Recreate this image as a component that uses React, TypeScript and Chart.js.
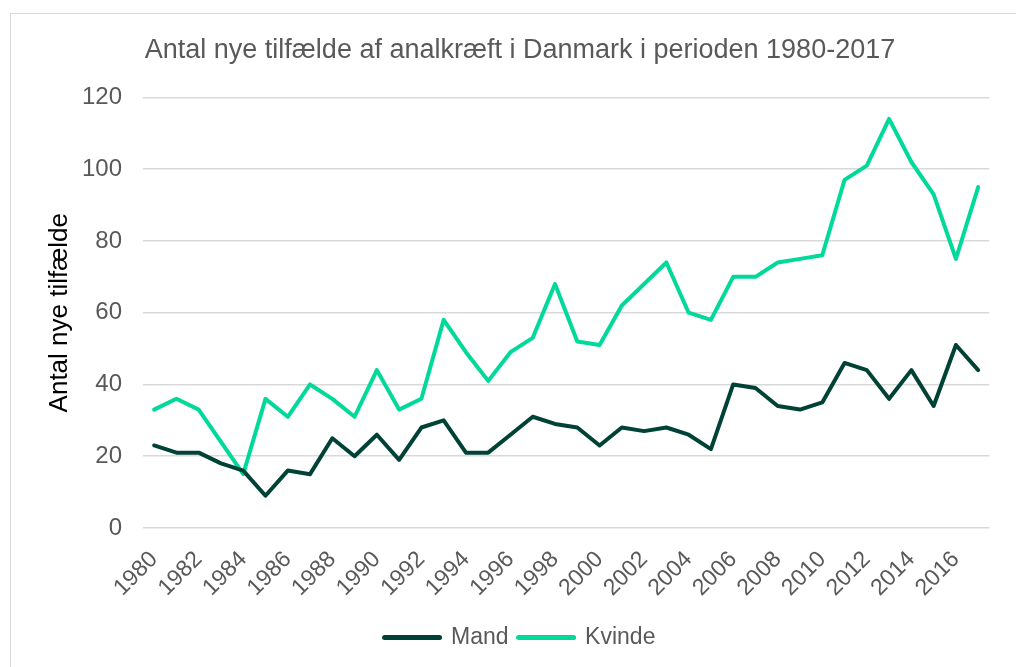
import React, { useEffect, useRef } from "react";
import { Chart, registerables } from "chart.js";

Chart.register(...registerables);

const years: string[] = [
  "1980","1981","1982","1983","1984","1985","1986","1987","1988","1989",
  "1990","1991","1992","1993","1994","1995","1996","1997","1998","1999",
  "2000","2001","2002","2003","2004","2005","2006","2007","2008","2009",
  "2010","2011","2012","2013","2014","2015","2016","2017",
];

const mand: number[] = [
  23, 21, 21, 18, 16, 9, 16, 15, 25, 20,
  26, 19, 28, 30, 21, 21, 26, 31, 29, 28,
  23, 28, 27, 28, 26, 22, 40, 39, 34, 33,
  35, 46, 44, 36, 44, 34, 51, 44,
];

const kvinde: number[] = [
  33, 36, 33, 24, 15, 36, 31, 40, 36, 31,
  44, 33, 36, 58, 49, 41, 49, 53, 68, 52,
  51, 62, 68, 74, 60, 58, 70, 70, 74, 75,
  76, 97, 101, 114, 102, 93, 75, 95,
];

const yTicks: number[] = [0, 20, 40, 60, 80, 100, 120];

const titleText = "Antal nye tilfælde af analkræft i Danmark i perioden 1980-2017";
const yTitleText = "Antal nye tilfælde";

const FONT = "'Liberation Sans', Arial, sans-serif";
const DARK = "#004236";
const BRIGHT = "#00D99A";
const GREY = "#595959";

export default function App() {
  const ref = useRef<HTMLCanvasElement | null>(null);

  useEffect(() => {
    if (!ref.current) return;
    const chart = new Chart(ref.current, {
      type: "line",
      data: {
        labels: years,
        datasets: [
          {
            label: "Mand",
            data: mand,
            borderColor: DARK,
            backgroundColor: DARK,
            borderWidth: 4,
            pointRadius: 0,
            borderCapStyle: "round",
            borderJoinStyle: "round",
            tension: 0,
          },
          {
            label: "Kvinde",
            data: kvinde,
            borderColor: BRIGHT,
            backgroundColor: BRIGHT,
            borderWidth: 4,
            pointRadius: 0,
            borderCapStyle: "round",
            borderJoinStyle: "round",
            tension: 0,
          },
        ],
      },
      options: {
        animation: false,
        responsive: false,
        maintainAspectRatio: false,
        layout: { padding: { left: 36, right: 23, top: 0, bottom: 8 } },
        plugins: {
          title: {
            display: true,
            text: titleText,
            color: GREY,
            font: { family: FONT, size: 27, weight: "normal" },
            padding: { top: 20, bottom: 31 },
          },
          legend: {
            display: true,
            position: "bottom",
            labels: {
              usePointStyle: true,
              pointStyle: "line",
              pointStyleWidth: 55,
              color: GREY,
              font: { family: FONT, size: 23 },
              padding: 10,
              generateLabels: (c: any) =>
                (Chart.defaults.plugins.legend.labels as any)
                  .generateLabels(c)
                  .map((l: any) => ({ ...l, lineWidth: 5, lineCap: "round" })),
            },
          },
          tooltip: { enabled: false },
        },
        scales: {
          x: {
            type: "category",
            offset: true,
            grid: { display: false, drawTicks: false },
            border: { display: false },
            ticks: {
              color: GREY,
              font: { family: FONT, size: 23 },
              autoSkip: false,
              minRotation: 45,
              maxRotation: 45,
              padding: 18,
              callback: (_v: any, i: number) => (i % 2 === 0 ? years[i] : ""),
            },
            afterFit: (s: any) => {
              s.height = 88;
            },
          },
          y: {
            min: 0,
            max: 120,
            afterBuildTicks: (s: any) => {
              s.ticks = yTicks.map((v) => ({ value: v }));
            },
            grid: { color: "#d9d9d9", lineWidth: 1.5, drawTicks: false },
            border: { display: false },
            ticks: {
              color: GREY,
              font: { family: FONT, size: 24 },
              padding: 21,
            },
            title: {
              display: true,
              text: yTitleText,
              color: "#000000",
              font: { family: FONT, size: 26 },
              padding: { top: -3, bottom: 0 },
            },
            afterFit: (s: any) => {
              s.width = 96;
            },
          },
        },
      },
    });
    return () => chart.destroy();
  }, []);

  return (
    <div
      style={{
        position: "absolute",
        left: 10,
        top: 13,
        width: 1006,
        height: 654,
        borderLeft: "1px solid #d9d9d9",
        borderTop: "1px solid #d9d9d9",
        boxSizing: "border-box",
        background: "#fff",
      }}
    >
      <canvas ref={ref} width={1005} height={653} style={{ display: "block" }} />
    </div>
  );
}
